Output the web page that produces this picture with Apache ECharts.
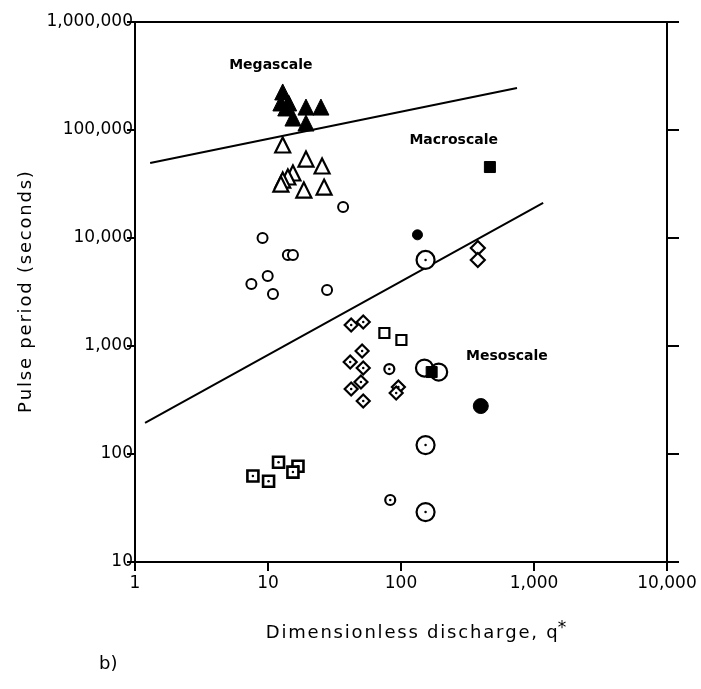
<!DOCTYPE html>
<html>
<head>
<meta charset="utf-8">
<script src="https://cdn.jsdelivr.net/npm/echarts/dist/echarts.min.js"></script>
<style>
  html, body { margin: 0; padding: 0; background: #ffffff; }
  #chart { width: 701px; height: 689px; }
</style>
</head>
<body>
<div id="chart"></div>
<script>
// Axis ticks and their printed labels
const xTickValues = [1, 10, 100, 1000, 10000];
const xTickLabels = ['1', '10', '100', '1,000', '10,000'];
const yTickValues = [10, 100, 1000, 10000, 100000, 1000000];
const yTickLabels = ['10', '100', '1,000', '10,000', '100,000', '1,000,000'];

// Megascale pulses (filled triangles)
const megaQ = [12.9, 12.5, 13.6, 15.4, 19.3, 25.0, 19.3, 14.3];
const megaT = [225000, 178000, 160000, 129000, 163000, 163000, 116000, 178000];

// Open triangles
const openTriQ = [12.9, 19.3, 25.5, 15.4, 14.1, 12.9, 12.5, 18.6, 26.4];
const openTriT = [72600, 53800, 46400, 40000, 36700, 34400, 31600, 27800, 29600];

// Small open circles
const smallCircQ = [36.7, 9.1, 14.1, 15.4, 9.95, 7.5, 10.9, 27.8];
const smallCircT = [19400, 10000, 6970, 6970, 4450, 3750, 3030, 3300];

// Filled circle (small) and filled circle (large)
const filledCircQ = [133];
const filledCircT = [10700];
const bigFilledCircQ = [398];
const bigFilledCircT = [278];

// Filled squares
const filledSqQ = [466, 170];
const filledSqT = [45400, 574];

// Large circles with a centre dot
const bigRingDotQ = [153, 153, 153];
const bigRingDotT = [6260, 121, 29];

// Large open circles
const bigRingQ = [150, 192];
const bigRingT = [625, 574];

// Open diamonds
const openDiaQ = [378, 378];
const openDiaT = [8070, 6250];

// Diamonds with a centre dot
const dotDiaQ = [42.2, 52, 51, 41.5, 52, 50, 42.2, 52, 95.6, 92];
const dotDiaT = [1565, 1667, 900, 711, 625, 464, 400, 310, 417, 367];

// Open squares
const openSqQ = [75, 100.7];
const openSqT = [1320, 1137];

// Small circles with a centre dot
const smallRingDotQ = [81.7, 83];
const smallRingDotT = [612, 37.5];

// Squares with a centre dot
const dotSqQ = [12, 16.8, 15.4, 7.7, 10.1];
const dotSqT = [84, 77, 68, 62.5, 56];

// Boundary lines between scales
const upperLineQ = [1.3, 745];
const upperLineT = [49400, 245000];
const lowerLineQ = [1.19, 1172];
const lowerLineT = [194, 21100];

// Region names
const regionNames = ['Megascale', 'Macroscale', 'Mesoscale'];
const regionQ = [10.5, 249, 626];
const regionT = [400000, 80800, 807];

const FONT = 'DejaVu Sans';
const pts = (xs, ys) => xs.map((x, i) => [x, ys[i]]);
// widen the letter spacing of axis titles with hair spaces
const spaced = s => s.split('').join('\u200A');

function labelFor(values, labels) {
  return v => {
    const i = values.findIndex(t => Math.abs(Math.log10(t) - Math.log10(v)) < 1e-6);
    return i >= 0 ? labels[i] : '';
  };
}

function scatter(name, xs, ys, symbol, size, filled, extra) {
  return Object.assign({
    name: name,
    type: 'scatter',
    data: pts(xs, ys),
    symbol: symbol,
    symbolSize: size,
    itemStyle: filled
      ? { color: '#000', borderColor: '#000', borderWidth: 1, opacity: 1 }
      : { color: '#fff', borderColor: '#000', borderWidth: 2.2, opacity: 1 },
    emphasis: { disabled: true },
    z: 3
  }, extra || {});
}

function centreDots(name, xs, ys) {
  return {
    name: name,
    type: 'scatter',
    data: pts(xs, ys),
    symbol: 'circle',
    symbolSize: 2.5,
    itemStyle: { color: '#000', opacity: 1 },
    emphasis: { disabled: true },
    z: 5
  };
}

function boundary(name, xs, ys) {
  return {
    name: name,
    type: 'line',
    data: pts(xs, ys),
    showSymbol: false,
    lineStyle: { color: '#000', width: 2 },
    emphasis: { disabled: true },
    z: 2
  };
}

const chart = echarts.init(document.getElementById('chart'), null, { renderer: 'canvas' });

chart.setOption({
  animation: false,
  backgroundColor: '#ffffff',
  textStyle: { fontFamily: FONT, color: '#000' },
  grid: { left: 135, right: 34, top: 22, bottom: 127 },
  xAxis: [
    {
      type: 'log', logBase: 10, min: 1, max: 10000, position: 'bottom',
      axisLine: { lineStyle: { color: '#000', width: 2 } },
      axisTick: { show: true, inside: false, length: 9, lineStyle: { color: '#000', width: 2 } },
      minorTick: { show: false },
      splitLine: { show: false },
      axisLabel: { color: '#000', fontSize: 17, fontFamily: FONT, margin: 13,
                   formatter: labelFor(xTickValues, xTickLabels) },
      name: spaced('Dimensionless discharge, q') + '{s|*}',
      nameLocation: 'middle', nameGap: 58,
      nameTextStyle: { color: '#000', fontSize: 18, fontFamily: FONT, padding: [0, 0, 0, 30],
                       rich: { s: { fontSize: 17, fontFamily: FONT, verticalAlign: 'top', padding: [0, 0, 10, 0] } } }
    },
    {
      type: 'log', logBase: 10, min: 1, max: 10000, position: 'top',
      axisLine: { lineStyle: { color: '#000', width: 2 } },
      axisTick: { show: false }, axisLabel: { show: false }, splitLine: { show: false }
    }
  ],
  yAxis: [
    {
      type: 'log', logBase: 10, min: 10, max: 1000000, position: 'left',
      axisLine: { lineStyle: { color: '#000', width: 2 } },
      axisTick: { show: true, inside: false, length: 8, lineStyle: { color: '#000', width: 2 } },
      splitLine: { show: false },
      axisLabel: { color: '#000', fontSize: 17, fontFamily: FONT, margin: 2,
                   formatter: labelFor(yTickValues, yTickLabels) },
      name: spaced('Pulse period (seconds)'),
      nameLocation: 'middle', nameGap: 96, nameRotate: 90,
      nameTextStyle: { color: '#000', fontSize: 18, fontFamily: FONT, padding: [0, 0, 0, 0] }
    },
    {
      type: 'log', logBase: 10, min: 10, max: 1000000, position: 'right',
      axisLine: { lineStyle: { color: '#000', width: 2 } },
      axisTick: { show: true, inside: false, length: 12, lineStyle: { color: '#000', width: 2 } },
      axisLabel: { show: false }, splitLine: { show: false }
    }
  ],
  graphic: [
    { type: 'text', left: 99, top: 655, style: { text: 'b)', font: '18px "' + FONT + '"', fill: '#000' } }
  ],
  series: [
    boundary('upper boundary', upperLineQ, upperLineT),
    boundary('lower boundary', lowerLineQ, lowerLineT),
    scatter('megascale', megaQ, megaT, 'triangle', 16, true),
    scatter('open triangles', openTriQ, openTriT, 'triangle', 15, false),
    scatter('small circles', smallCircQ, smallCircT, 'circle', 10, false, { itemStyle: { color: '#fff', borderColor: '#000', borderWidth: 2, opacity: 1 } }),
    scatter('filled circle', filledCircQ, filledCircT, 'circle', 10, true),
    scatter('large filled circle', bigFilledCircQ, bigFilledCircT, 'circle', 15, true),
    scatter('large rings', bigRingQ, bigRingT, 'circle', 17, false),
    scatter('filled squares', filledSqQ, filledSqT, 'rect', 11, true, { z: 4 }),
    scatter('large dotted rings', bigRingDotQ, bigRingDotT, 'circle', 18, false),
    centreDots('large ring dots', bigRingDotQ, bigRingDotT),
    scatter('open diamonds', openDiaQ, openDiaT, 'diamond', 14, false),
    scatter('dotted diamonds', dotDiaQ, dotDiaT, 'diamond', 13, false),
    centreDots('diamond dots', dotDiaQ, dotDiaT),
    scatter('open squares', openSqQ, openSqT, 'rect', 10, false),
    scatter('small dotted rings', smallRingDotQ, smallRingDotT, 'circle', 10, false),
    centreDots('small ring dots', smallRingDotQ, smallRingDotT),
    scatter('dotted squares', dotSqQ, dotSqT, 'rect', 11, false, { itemStyle: { color: '#fff', borderColor: '#000', borderWidth: 2.6, opacity: 1 } }),
    centreDots('square dots', dotSqQ, dotSqT),
    {
      name: 'region names',
      type: 'scatter',
      data: pts(regionQ, regionT).map((p, i) => ({ value: p, name: regionNames[i] })),
      symbolSize: 0,
      itemStyle: { opacity: 1 },
      label: { show: true, position: 'inside', formatter: p => p.name,
               color: '#000', fontSize: 14, fontWeight: 'bold', fontFamily: FONT },
      emphasis: { disabled: true },
      z: 6
    }
  ]
});
</script>
</body>
</html>
